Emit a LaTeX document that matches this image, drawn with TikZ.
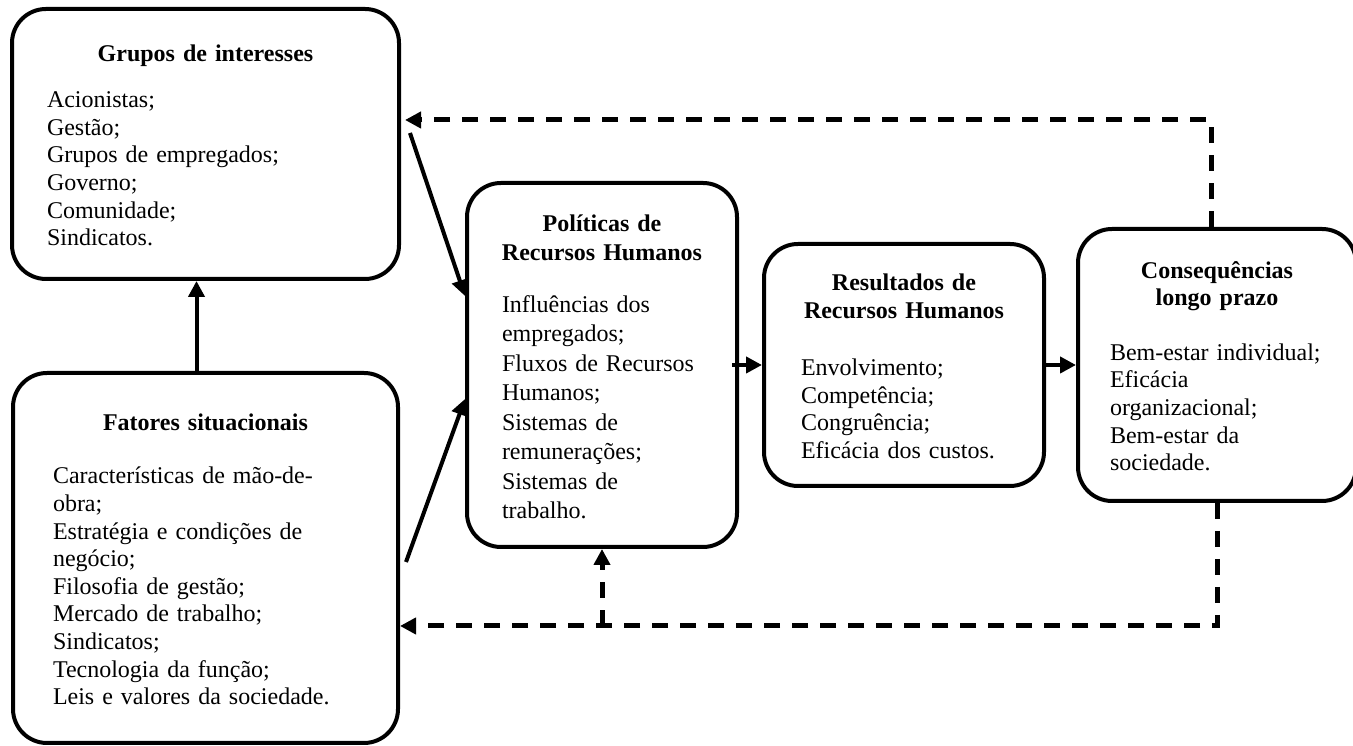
\documentclass[tikz,border=0pt]{standalone}
\usepackage{fontspec}
\setmainfont{Liberation Serif}
\usetikzlibrary{arrows.meta,positioning}
\tikzset{
  hrbox/.style={
    draw=black,
    line width=4pt,
    rounded corners=34pt,
    inner sep=0pt,
    align=left,
    font=\fontsize{24}{27.6}\selectfont
  },
  hrarrow/.style={-{Triangle[length=16pt,width=16pt]},line width=4pt},
  hrloop/.style={hrarrow,line width=5pt,dash pattern=on 16pt off 12pt}
}
\newcommand{\hrtitle}[2][22pt]{\makebox[\linewidth]{\bfseries\begin{tabular}[b]{@{}c@{}}#2\end{tabular}}\par\vspace{#1}}

\begin{document}
\begin{tikzpicture}[x=1pt,y=1pt,node distance=23pt]
  \useasboundingbox (0,0) rectangle (1353,746);
  \node[hrbox,minimum width=387pt,minimum height=270pt,text width=317pt] (grupos) at (205.5,602)
    {\hrtitle[19pt]{Grupos de interesses}Acionistas;\\Gestão;\\Grupos de empregados;\\Governo;\\Comunidade;\\Sindicatos.};
  \node[hrbox,minimum width=385pt,minimum height=370pt,text width=305pt,below=90pt of grupos] (fatores)
    {\hrtitle[26pt]{Fatores situacionais}Características de mão-de-\\obra;\\Estratégia e condições de\\negócio;\\Filosofia de gestão;\\Mercado de trabalho;\\Sindicatos;\\Tecnologia da função;\\Leis e valores da sociedade.};
  \node[hrbox,minimum width=270pt,minimum height=364pt,text width=200pt,font=\fontsize{24}{29.5}\selectfont] (politicas) at (602,381)
    {\hrtitle{Políticas de\\Recursos Humanos}Influências dos\\empregados;\\Fluxos de Recursos\\Humanos;\\Sistemas de\\remunerações;\\Sistemas de\\trabalho.};
  \node[hrbox,minimum width=280pt,minimum height=242pt,text width=206pt,right=of politicas] (resultados)
    {\hrtitle[30pt]{Resultados de\\Recursos Humanos}Envolvimento;\\Competência;\\Congruência;\\Eficácia dos custos.};
  \node[hrbox,minimum width=278pt,minimum height=272pt,text width=214pt,right=30pt of resultados] (consequencias)
    {\hrtitle[27pt]{Consequências\\longo prazo}Bem-estar individual;\\Eficácia\\organizacional;\\Bem-estar da\\sociedade.};

  \draw[hrarrow] ([xshift=-9pt]fatores.north) -- ([xshift=-9pt]fatores.north |- grupos.south);
  \draw[hrarrow] ([shift={(9pt,11pt)}]grupos.east) -- ([yshift=69pt]politicas.west);
  \draw[hrarrow] ([shift={(6pt,-4pt)}]fatores.east) -- ([yshift=-34pt]politicas.west);
  \draw[hrarrow] ([xshift=-7pt]politicas.east) -- (resultados.west);
  \draw[hrarrow] ([xshift=-3pt]resultados.east) -- (consequencias.west);
  % retorno das consequencias
  \coordinate (topo) at ([shift={(4pt,24pt)}]grupos.east);
  \coordinate (base) at ([yshift=-68pt]fatores.east);
  \draw[hrloop] ([xshift=-6pt]consequencias.north) |- (topo);
  \draw[hrloop] (consequencias.south) |- (base);
  \draw[hrloop] (politicas.south |- base) -- (politicas.south);
\end{tikzpicture}
\end{document}
